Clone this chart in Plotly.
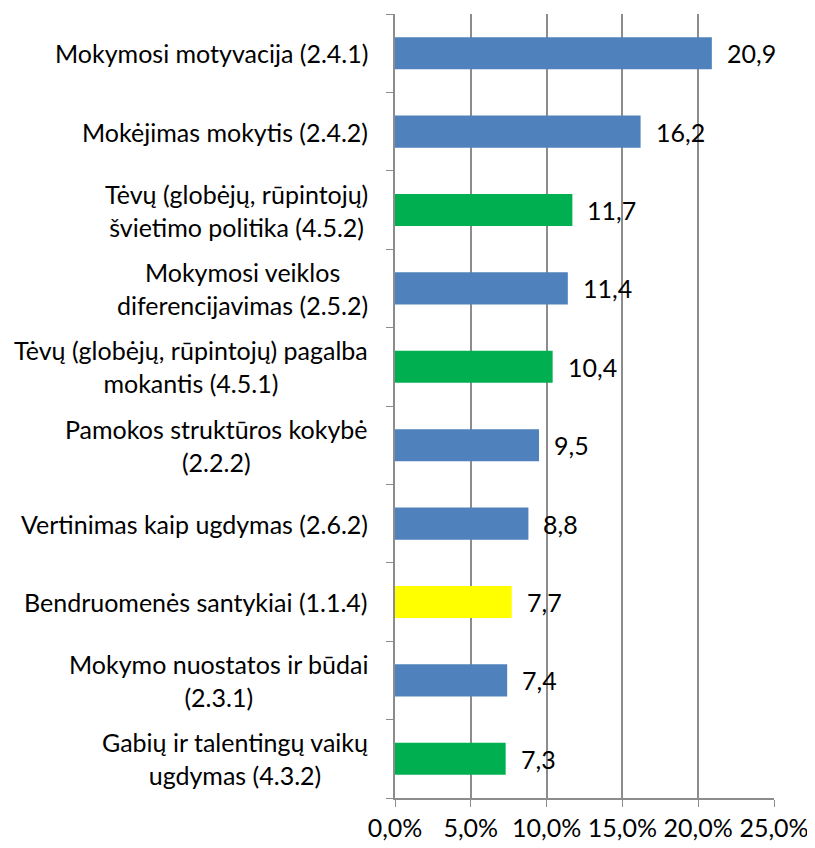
import plotly.graph_objects as go

categories = [
    "Mokymosi motyvacija (2.4.1)",
    "Mokėjimas mokytis (2.4.2)",
    "Tėvų (globėjų, rūpintojų)<br>švietimo politika (4.5.2)",
    "Mokymosi veiklos<br>diferencijavimas (2.5.2)",
    "Tėvų (globėjų, rūpintojų) pagalba<br>mokantis (4.5.1)",
    "Pamokos struktūros kokybė<br>(2.2.2)",
    "Vertinimas kaip ugdymas (2.6.2)",
    "Bendruomenės santykiai (1.1.4)",
    "Mokymo nuostatos ir būdai<br>(2.3.1)",
    "Gabių ir talentingų vaikų<br>ugdymas (4.3.2)",
]
values = [20.9, 16.2, 11.7, 11.4, 10.4, 9.5, 8.8, 7.7, 7.4, 7.3]
colors = ["#4F81BD", "#4F81BD", "#00B050", "#4F81BD", "#00B050",
          "#4F81BD", "#4F81BD", "#FFFF00", "#4F81BD", "#00B050"]
tick_vals = [0, 5, 10, 15, 20, 25]
tick_text = ["0,0%", "5,0%", "10,0%", "15,0%", "20,0%", "25,0%"]

font = "Lato, Open Sans, sans-serif"
fsize = 25
ids = list(range(len(categories)))

fig = go.Figure(go.Bar(
    y=ids, x=values, orientation="h",
    marker=dict(color=colors, line=dict(width=0)),
    width=0.41,
))

# value labels to the right of each bar
for i, v in zip(ids, values):
    fig.add_annotation(x=v, y=i, text=f"{v:.1f}".replace(".", ","),
                       showarrow=False, xanchor="left", xshift=13,
                       font=dict(size=fsize, color="black", family=font))

# category labels, centred lines, right edge near the axis
for i, c in zip(ids, categories):
    fig.add_annotation(x=0, xref="paper", y=i, text=c, showarrow=False,
                       xanchor="right", align="center", xshift=-25,
                       font=dict(size=fsize, color="black", family=font))

fig.update_layout(
    width=807, height=840,
    margin=dict(l=387, r=36, t=6, b=48),
    plot_bgcolor="white", paper_bgcolor="white",
    showlegend=False,
    font=dict(family=font, size=fsize, color="black"),
)
fig.update_xaxes(range=[0, 25], tickvals=tick_vals, ticktext=tick_text,
                 showgrid=True, gridcolor="#8c8c8c", gridwidth=1.5,
                 showline=True, linecolor="#8c8c8c", linewidth=1.5,
                 ticks="outside", ticklen=7, tickcolor="#8c8c8c",
                 zeroline=False, tickfont=dict(size=fsize))
fig.update_yaxes(type="category", range=[len(ids) - 0.5, -0.5],
                 tickvals=ids, showticklabels=False, tickson="boundaries",
                 ticks="outside", ticklen=7, tickcolor="#8c8c8c",
                 showline=True, linecolor="#8c8c8c", linewidth=1.5,
                 showgrid=False, zeroline=False)

fig.write_html("out.html")
